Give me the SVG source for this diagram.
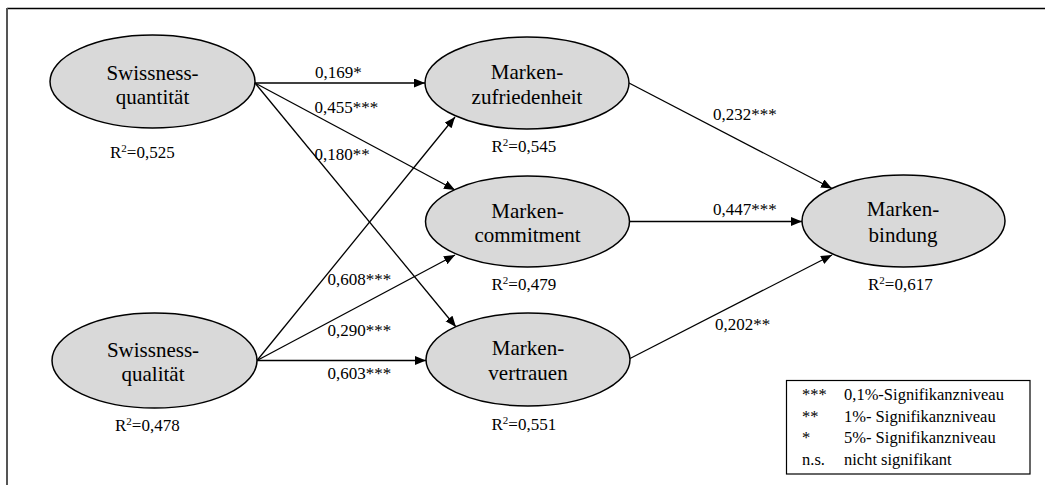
<svg xmlns="http://www.w3.org/2000/svg" width="1045" height="485" viewBox="0 0 1045 485">
<style>
.node ellipse{fill:#d9d9d9;stroke:#000;stroke-width:1.5}
.nt{font-family:"Liberation Serif","Times New Roman",serif;font-size:21px;fill:#000;text-anchor:middle}
.r2{font-family:"Liberation Serif","Times New Roman",serif;font-size:17px;fill:#000}
.lbl{font-family:"Liberation Serif","Times New Roman",serif;font-size:17px;fill:#000}
.edges line{stroke:#000;stroke-width:1.3;marker-end:url(#ah)}
.sup{font-size:11px}
</style>
<defs>
<marker id="ah" markerUnits="userSpaceOnUse" markerWidth="12" markerHeight="10" refX="11" refY="4.5" orient="auto">
<path d="M0,0 L11,4.5 L0,9 z" fill="#000"/>
</marker>
</defs>
<rect width="1045" height="485" fill="#fff"/>
<g id="frame" fill="none">
<path d="M7,8.5 H1045" stroke="#000" stroke-width="1.6"/>
<path d="M7,8 V485" stroke="#555" stroke-width="2"/>
</g>
<g class="edges" id="connectors">
<line x1="255" y1="83" x2="425" y2="83"/>
<line x1="255" y1="83" x2="455" y2="190"/>
<line x1="255" y1="83" x2="456" y2="327"/>
<line x1="257" y1="360.5" x2="455" y2="117"/>
<line x1="257" y1="360.5" x2="455" y2="255"/>
<line x1="257" y1="360.5" x2="426" y2="360.5"/>
<line x1="629" y1="83" x2="832" y2="188.5"/>
<line x1="629" y1="221.5" x2="802" y2="221.5"/>
<line x1="630" y1="358.5" x2="832" y2="255"/>
</g>
<g id="edge-labels" class="lbl">
<text x="315" y="77.5">0,169*</text>
<text x="314.5" y="113">0,455***</text>
<text x="314.5" y="159.5">0,180**</text>
<text x="327.5" y="285">0,608***</text>
<text x="327.5" y="336">0,290***</text>
<text x="327.5" y="378.5">0,603***</text>
<text x="713" y="120">0,232***</text>
<text x="713" y="215">0,447***</text>
<text x="715" y="330">0,202**</text>
</g>
<g id="n-quantitaet" class="node">
<ellipse cx="152.5" cy="81.5" rx="102.5" ry="46.5"/>
<text class="nt" x="152.5" y="79.5">Swissness-</text>
<text class="nt" x="152.5" y="104">quantität</text>
<text class="r2" x="110" y="158">R<tspan class="sup" dy="-6">2</tspan><tspan dy="6">=0,525</tspan></text>
</g>
<g id="n-qualitaet" class="node">
<ellipse cx="154.5" cy="360.5" rx="102.5" ry="47.5"/>
<text class="nt" x="153" y="356.5">Swissness-</text>
<text class="nt" x="153" y="381">qualität</text>
<text class="r2" x="115" y="430.5">R<tspan class="sup" dy="-6">2</tspan><tspan dy="6">=0,478</tspan></text>
</g>
<g id="n-zufriedenheit" class="node">
<ellipse cx="527" cy="83" rx="102" ry="46"/>
<text class="nt" x="527" y="79">Marken-</text>
<text class="nt" x="527" y="104">zufriedenheit</text>
<text class="r2" x="491.5" y="151.5">R<tspan class="sup" dy="-6">2</tspan><tspan dy="6">=0,545</tspan></text>
</g>
<g id="n-commitment" class="node">
<ellipse cx="527.5" cy="221.5" rx="102" ry="45.5"/>
<text class="nt" x="527.5" y="218">Marken-</text>
<text class="nt" x="527.5" y="242">commitment</text>
<text class="r2" x="491.5" y="289.5">R<tspan class="sup" dy="-6">2</tspan><tspan dy="6">=0,479</tspan></text>
</g>
<g id="n-vertrauen" class="node">
<ellipse cx="528" cy="359.5" rx="102" ry="46.5"/>
<text class="nt" x="528" y="355">Marken-</text>
<text class="nt" x="528" y="380">vertrauen</text>
<text class="r2" x="491.5" y="430">R<tspan class="sup" dy="-6">2</tspan><tspan dy="6">=0,551</tspan></text>
</g>
<g id="n-bindung" class="node">
<ellipse cx="903.5" cy="221" rx="101.5" ry="46"/>
<text class="nt" x="903" y="216">Marken-</text>
<text class="nt" x="903" y="241.5">bindung</text>
<text class="r2" x="868" y="290">R<tspan class="sup" dy="-6">2</tspan><tspan dy="6">=0,617</tspan></text>
</g>
<g id="legend">
<rect x="786.5" y="380.5" width="243.5" height="93.5" fill="#fff" stroke="#000" stroke-width="1.2"/>
<g class="lbl" style="font-size:16.5px">
<text x="802" y="400">***</text><text x="844" y="400">0,1%-Signifikanzniveau</text>
<text x="802" y="421.5">**</text><text x="844" y="421.5">1%- Signifikanzniveau</text>
<text x="802" y="443">*</text><text x="844" y="443">5%- Signifikanzniveau</text>
<text x="802" y="464.5">n.s.</text><text x="844" y="464.5">nicht signifikant</text>
</g>
</g>
</svg>
